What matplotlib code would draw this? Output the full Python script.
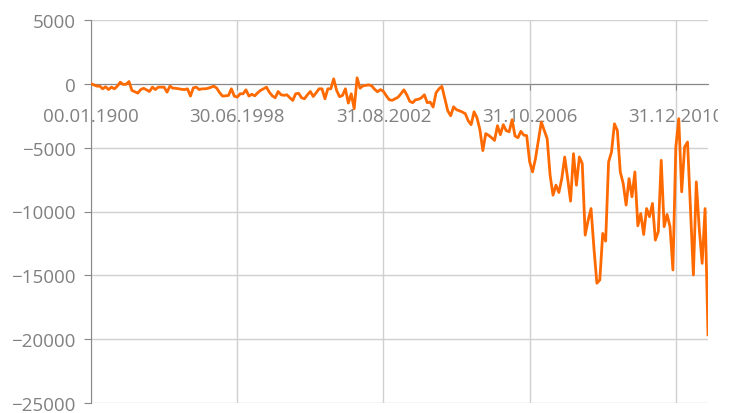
import matplotlib
matplotlib.use("Agg")
import matplotlib.pyplot as plt
from matplotlib.transforms import Bbox, TransformedBbox

# monthly values
values = [
    0, -80, -180, -180, -390, -230, -450, -260, -390, -180,
    130, -50, -40, 180, -520, -620, -730, -450, -350, -470,
    -600, -260, -450, -260, -260, -260, -650, -180, -340, -350,
    -390, -430, -450, -390, -960, -310, -260, -450, -390, -390,
    -350, -270, -180, -340, -700, -960, -940, -910, -390, -960,
    -1040, -780, -780, -470, -960, -820, -940, -700, -510, -390,
    -260, -660, -940, -1090, -600, -860, -900, -860, -1090, -1300,
    -780, -740, -1090, -1170, -860, -600, -990, -700, -390, -390,
    -1170, -390, -390, 390, -520, -1010, -910, -390, -1510, -780,
    -1950, 470, -340, -160, -120, -80, -160, -430, -620, -450,
    -590, -940, -1250, -1290, -1170, -1050, -780, -470, -860, -1370,
    -1480, -1250, -1210, -1090, -860, -1480, -1430, -1820, -700, -390,
    -200, -1170, -2110, -2500, -1800, -2030, -2110, -2210, -2340, -2890,
    -3200, -2190, -2660, -3590, -5230, -3900, -4040, -4220, -4430, -3280,
    -3980, -3200, -3670, -3750, -2810, -4080, -4220, -3720, -4020, -4060,
    -6090, -6900, -5860, -4450, -2990, -3650, -4300, -7160, -8720, -7940,
    -8510, -7420, -5730, -7420, -9190, -5470, -7940, -5730, -6250, -11850,
    -10700, -9770, -12890, -15620, -15360, -11720, -12320, -6120, -5340, -3130,
    -3650, -6900, -7810, -9500, -7420, -8850, -6900, -11120, -10160, -11800,
    -9770, -10410, -9370, -12240, -11580, -5990, -11190, -10230, -11170, -14580,
    -4950, -2730, -8460, -4950, -4560, -9770, -14970, -7680, -11330, -14060,
    -9770, -19660,
]
tick_pos = [0, 50, 100, 150, 200]
tick_labels = ["00.01.1900", "30.06.1998", "31.08.2002", "31.10.2006", "31.12.2010"]
y_ticks = [5000, 0, -5000, -10000, -15000, -20000, -25000]

plt.rcParams['font.family'] = ['Open Sans', 'DejaVu Sans']

fig = plt.figure(figsize=(7.35, 4.14), dpi=100)
ax = fig.add_axes([91 / 735, 1 - 404 / 414, (708 - 91) / 735, (404 - 21) / 414])

x = list(range(len(values)))
ax.plot(x, values, color='#ff6a00', linewidth=2.0, zorder=3)

ax.set_xlim(0, len(values) - 1)
ax.set_ylim(-25000, 5000)
ax.set_yticks(y_ticks)
ax.set_xticks(tick_pos)
ax.set_xticklabels(tick_labels)

ax.grid(True, color='#d0d0d0', linewidth=1.0, zorder=0)
ax.set_axisbelow(True)

for s in ['top', 'right']:
    ax.spines[s].set_visible(False)
ax.spines['left'].set_color('#888888')
ax.spines['bottom'].set_position(('data', 0))
ax.spines['bottom'].set_color('#888888')
ax.spines['bottom'].set_zorder(2)

ax.tick_params(axis='y', length=5, color='#888888', labelcolor='#808080',
               labelsize=13.5, pad=6)
ax.tick_params(axis='x', length=4.5, color='#888888', labelcolor='#808080',
               labelsize=13.5, pad=12)

# the last date label is cut off at the right edge of the chart area
clip = TransformedBbox(Bbox([[0, 0], [718 / 735, 1]]), fig.transFigure)
for lbl in ax.get_xticklabels():
    lbl.set_clip_on(True)
    lbl.set_clip_box(clip)

fig.savefig('out.png', dpi=100)
